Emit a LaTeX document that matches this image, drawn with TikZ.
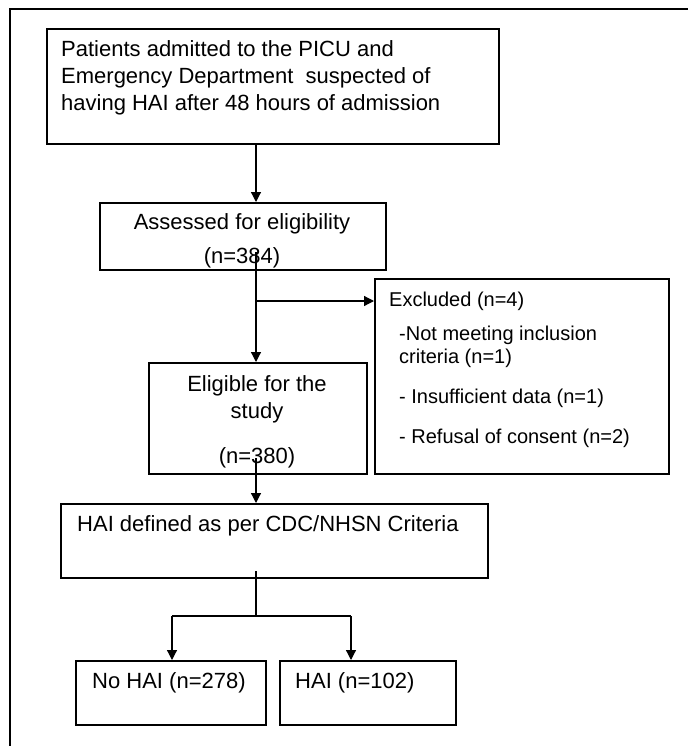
\documentclass[tikz,border=0pt]{standalone}
\usepackage{fontspec}
\setmainfont{Liberation Sans}
\usetikzlibrary{arrows.meta}
\begin{document}
\begin{tikzpicture}[x=1pt,y=-1pt,
  box/.style={draw, line width=1.6pt, inner sep=0pt, anchor=north west},
  conn/.style={line width=1.2pt},
  arr/.style={conn, -{Triangle[length=10pt,width=10pt]}},
  txt/.style={inner sep=0pt, font=\fontsize{22}{26}\selectfont},
  stxt/.style={inner sep=0pt, font=\fontsize{20}{24}\selectfont}]
\useasboundingbox (0,0) rectangle (688,746);
\draw[line width=1.4pt] (10,746) -- (10,9) -- (688,9);

% boxes
\node[box, minimum width=452pt, minimum height=115pt] (b1) at (46,28) {};
\node[box, minimum width=286pt, minimum height=67pt]  (b2) at (99,202) {};
\node[box, minimum width=294pt, minimum height=195pt] (b4) at (374,278) {};
\node[box, minimum width=218pt, minimum height=111pt] (b3) at (148,362) {};
\node[box, minimum width=427pt, minimum height=74pt]  (b5) at (60,503) {};
\node[box, minimum width=190pt, minimum height=64pt]  (b6) at (75,660) {};
\node[box, minimum width=176pt, minimum height=64pt]  (b7) at (279,660) {};

% texts
\node[txt, anchor=base west] (t11) at (61,57) {Patients admitted to the PICU and};
\node[txt, anchor=base west] (t12) at (61,84) {Emergency Department~ suspected of};
\node[txt, anchor=base west] (t13) at (61,111) {having HAI after 48 hours of admission};

\node[txt, anchor=base] (t21) at (242,229) {Assessed for eligibility};
\node[txt, anchor=base] (t22) at (242,263) {(n=384)};

\node[stxt, anchor=base west] (t41) at (389,306) {Excluded (n=4)};
\node[stxt, anchor=base west] (t42) at (399,340) {-Not meeting inclusion};
\node[stxt, anchor=base west] (t43) at (399,363) {criteria (n=1)};
\node[stxt, anchor=base west] (t44) at (399,403) {- Insufficient data (n=1)};
\node[stxt, anchor=base west] (t45) at (399,443) {- Refusal of consent (n=2)};

\node[txt, anchor=base] (t31) at (257,391) {Eligible for the};
\node[txt, anchor=base] (t32) at (257,418) {study};
\node[txt, anchor=base] (t33) at (257,463) {(n=380)};

\node[txt, anchor=base west] (t51) at (77,531) {HAI defined as per CDC/NHSN Criteria};
\node[txt, anchor=base west] (t61) at (92,688) {No HAI (n=278)};
\node[txt, anchor=base west] (t71) at (295,688) {HAI (n=102)};

% connectors
\coordinate (sp) at (256,0);
\draw[arr] (sp |- b1.south) -- (sp |- b2.north);
\coordinate (s2) at (256,252);
\draw[arr] (s2) -- (sp |- b3.north);
\coordinate (br) at (256,301);
\draw[arr] (br) -- (br -| b4.west);
\coordinate (s3) at (256,458);
\draw[arr] (s3) -- (sp |- b5.north);
\coordinate (s4) at (256,571);
\coordinate (j) at (256,616);
\draw[conn] (s4) -- (j);
\coordinate (jl) at (172,616);
\coordinate (jr) at (351,616);
\draw[conn] (jl) -- (jr);
\draw[arr] (jl) -- (jl |- b6.north);
\draw[arr] (jr) -- (jr |- b7.north);
\end{tikzpicture}
\end{document}
